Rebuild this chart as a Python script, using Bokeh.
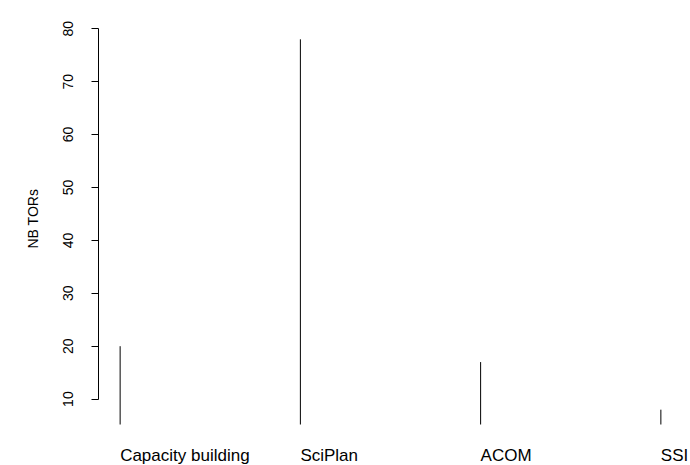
from bokeh.plotting import figure
from bokeh.models import FixedTicker, Range1d, Title
from bokeh.core.properties import value
from bokeh.embed import file_html
from bokeh.resources import INLINE

# ---- data ----
categories = ["Capacity building", "SciPlan", "ACOM", "SSI"]
nb_tors = [20, 78, 17, 8]
y_ticks = [10, 20, 30, 40, 50, 60, 70, 80]
y_label = "NB TORs"

# ---- layout (R-style 4% axis extension) ----
xs = list(range(1, len(categories) + 1))
n = len(xs)
pad = 0.04 * (max(nb_tors) - min(nb_tors))
ylo, yhi = min(nb_tors) - pad, max(nb_tors) + pad
xpad = 0.04 * (n - 1)
xlo, xhi = 1 - xpad, n + xpad

W, H = 690, 465
LEFT = 98            # R plot region left edge (px)
R_RIGHT = 682        # R plot region right edge (px)
TOP = 24             # R plot region top (px)
R_BOTTOM = 424       # R plot region bottom (px)
LABEL_BASELINE = 455 # baseline of category labels (px)
YLAB_START = 248     # where the rotated y label starts (px from top)
FONT = "Liberation Sans"

px_x = (R_RIGHT - LEFT) / (xhi - xlo)
px_y = (R_BOTTOM - TOP) / (yhi - ylo)
# extend the frame so that the category labels (drawn inside it) are visible
x_end = xhi + (W - R_RIGHT) / px_x
y_start = ylo - (H - R_BOTTOM) / px_y

p = figure(width=W, height=H, output_backend="svg", toolbar_location=None,
           x_range=Range1d(xlo, x_end), y_range=Range1d(y_start, yhi),
           x_axis_location=None,
           min_border_left=LEFT, min_border_right=0,
           min_border_top=TOP, min_border_bottom=0)
p.outline_line_color = None
p.grid.visible = False
p.background_fill_color = "white"
p.border_fill_color = "white"

ax = p.yaxis[0]
ax.bounds = (y_ticks[0], y_ticks[-1])
ax.ticker = FixedTicker(ticks=y_ticks)
ax.minor_tick_line_color = None
ax.major_tick_in = 0
ax.major_tick_out = 7
ax.axis_line_color = "black"
ax.major_tick_line_color = "black"
ax.major_label_orientation = "vertical"
ax.major_label_standoff = 18
ax.major_label_text_font = FONT
ax.major_label_text_font_size = "14px"
ax.major_label_text_color = "black"

# y label as a left title, centred on the R plot region rather than the frame
ylab = Title(text=y_label, align="left", offset=H - YLAB_START, standoff=40,
             text_font=FONT, text_font_size="14px", text_font_style="normal",
             text_color="black")
p.add_layout(ylab, "left")

# histogram-like vertical lines (R type="h"), from the plot-region bottom
p.segment(x0=xs, y0=[ylo] * n, x1=xs, y1=nb_tors, line_color="black", line_width=1)

# category labels, left aligned under each line
label_y = ylo - (LABEL_BASELINE - R_BOTTOM) / px_y
p.text(x=xs, y=[label_y] * n, text=categories, text_align="left",
       text_baseline="alphabetic", text_font=value(FONT),
       text_font_size="17px", text_color="black")

open("out.html", "w").write(file_html(p, INLINE))
